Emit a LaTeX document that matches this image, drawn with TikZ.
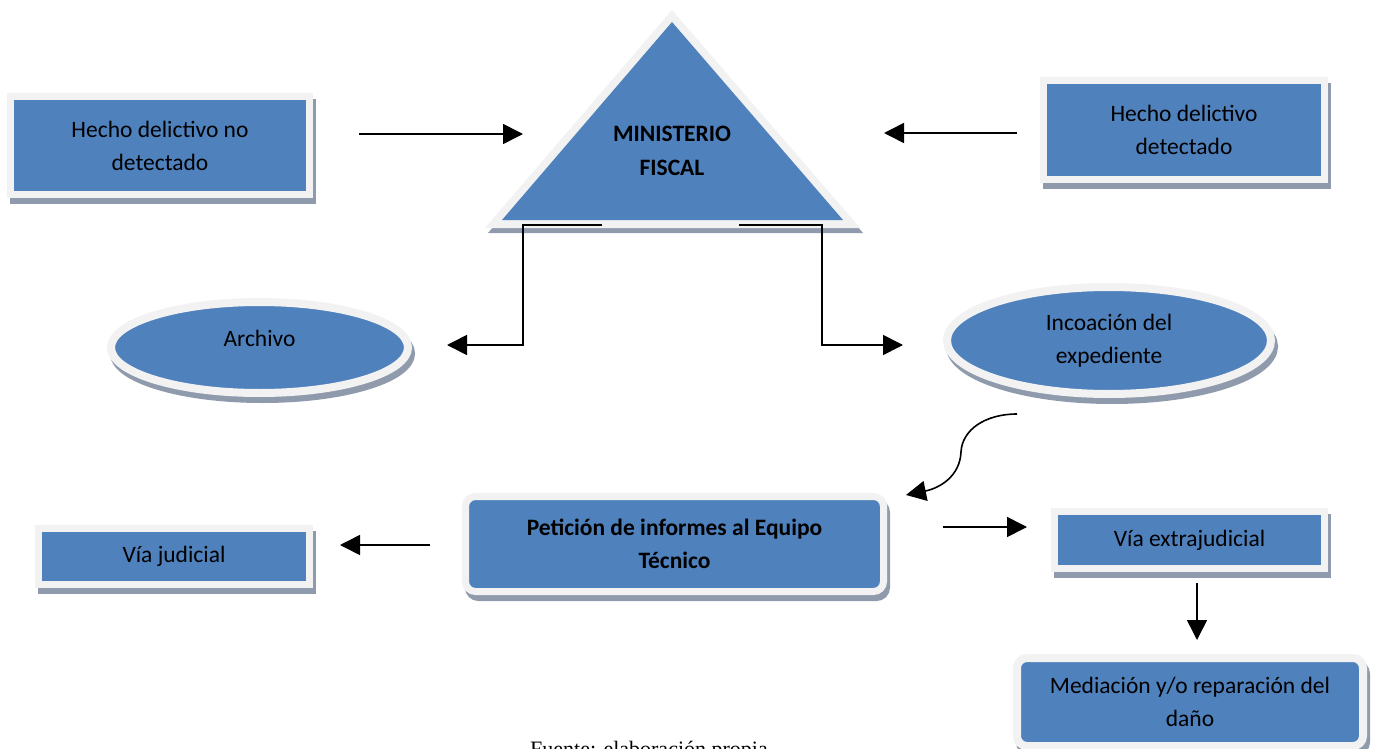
\documentclass[tikz,border=0pt]{standalone}
\usepackage{fontspec}
\setmainfont{Carlito}
\newfontfamily\capfont{Liberation Serif}
\usetikzlibrary{arrows.meta,shapes.geometric}
\definecolor{mblue}{HTML}{4F81BD}
\definecolor{mborder}{HTML}{F2F2F2}
\definecolor{mshadow}{HTML}{8F9BAC}

\begin{document}
\begin{tikzpicture}[x=1pt,y=-1pt,
  lbl/.style={font=\fontsize{23.5}{33}\selectfont, align=center, text=black},
  card/.style={lbl, fill=mblue, draw=mborder, line width=#1, inner sep=0pt,
     preaction={fill=mshadow, draw=mshadow, line width=#1,
                transform canvas={xshift=3pt,yshift=-6pt}}},
  box/.style={card=7pt, rectangle},
  rbox/.style={card=7pt, rectangle, rounded corners=10pt},
  oval/.style={card=8pt, ellipse},
  arr/.style={line width=1.6pt, -{Triangle[length=20pt,width=20pt]}},
]
\useasboundingbox (0,0) rectangle (1379,749);
\fill[white] (0,0) rectangle (1379,749);

% ---- Ministerio Fiscal (triangle) ----
\fill[mshadow] (488,233) -- (863,233) -- (675,15) -- cycle;
\fill[mborder] (485,228) -- (860,228) -- (672,10) -- cycle;
\fill[mblue]   (502,220) -- (843,220) -- (672,22) -- cycle;
\node[lbl, font=\fontsize{23.5}{34}\selectfont\bfseries] (mf) at (672,151) {MINISTERIO\\FISCAL};
\coordinate (mfl) at (602,225);
\coordinate (mfr) at (739,225);

% ---- boxes ----
\node[box, minimum width=299pt, minimum height=98pt]  (hnd) at (160,145.5) {Hecho delictivo no\\detectado};
\node[box, minimum width=281pt, minimum height=99pt]  (hd)  at (1184,130)  {Hecho delictivo\\detectado};
\node[oval, minimum width=297pt, minimum height=91pt, text depth=19pt] (arc) at (259.5,347.5) {Archivo};
\node[oval, minimum width=324pt, minimum height=107pt] (inc) at (1109,340.5) {Incoación del\\expediente};
\node[rbox, font=\fontsize{23.5}{33}\selectfont\bfseries, minimum width=418pt, minimum height=95pt] (pet) at (674.5,544) {Petición de informes al Equipo\\Técnico};
\node[box, minimum width=271pt, minimum height=56pt]  (vj)  at (174,556.5)  {Vía judicial};
\node[box, minimum width=270pt, minimum height=57pt]  (ve)  at (1189.5,540) {Vía extrajudicial};
\node[rbox, card=8pt, minimum width=346pt, minimum height=88pt] (med) at (1190,702) {Mediación y/o reparación del\\daño};

% ---- connector ends ----
\coordinate (a1s) at (359,134);  \coordinate (a1e) at (523,134);
\coordinate (a2s) at (1017,133); \coordinate (a2e) at (884,133);
\coordinate (a3e) at (447,345);
\coordinate (a4e) at (903,345);
\coordinate (a5s) at (1017,414); \coordinate (a5e) at (906,495);
\coordinate (a6s) at (430,545);  \coordinate (a6e) at (340,545);
\coordinate (a7s) at (943,527);  \coordinate (a7e) at (1027,527);
\coordinate (a8s) at (1197,583); \coordinate (a8e) at (1197,640);

% ---- connectors ----
\draw[arr] (a1s) -- (a1e);
\draw[arr] (a2s) -- (a2e);
\draw[arr] (mfl) -- (523,225) |- (a3e);
\draw[arr] (mfr) -- (822,225) |- (a4e);
\draw[arr] (a5s) .. controls (985,414) and (962,430) .. (961,452)
                 .. controls (960,476) and (940,488) .. (a5e);
\draw[arr] (a6s) -- (a6e);
\draw[arr] (a7s) -- (a7e);
\draw[arr] (a8s) -- (a8e);

% ---- source note ----
\node[font=\capfont\fontsize{22}{26}\selectfont, anchor=base] (src) at (649,756) {Fuente: elaboración propia};
\end{tikzpicture}
\end{document}
